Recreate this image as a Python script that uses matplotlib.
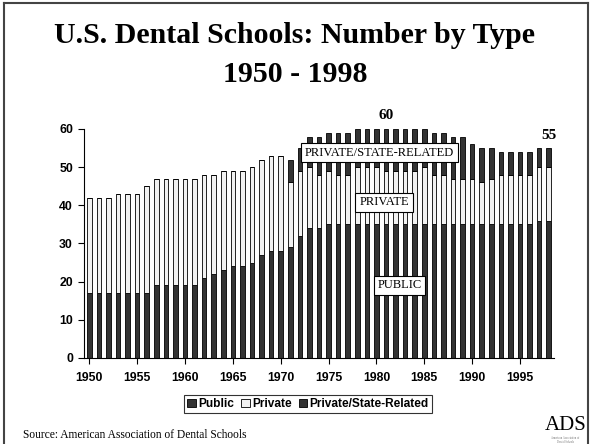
import matplotlib.pyplot as plt
from matplotlib.patches import Patch
from matplotlib.lines import Line2D

# Dental schools by type, 1950 - 1998
years = list(range(1950, 1999))
public = [17, 17, 17, 17, 17, 17, 17, 19, 19, 19, 19, 19, 21, 22, 23, 24, 24,
          25, 27, 28, 28, 29, 32, 34, 34, 35, 35, 35, 35, 35, 35, 35, 35, 35,
          35, 35, 35, 35, 35, 35, 35, 35, 35, 35, 35, 35, 35, 36, 36]
private = [25, 25, 25, 26, 26, 26, 28, 28, 28, 28, 28, 28, 27, 26, 26, 25, 25,
           25, 25, 25, 25, 17, 17, 16, 14, 14, 13, 13, 15, 15, 15, 14, 14, 14,
           14, 15, 13, 13, 12, 12, 12, 11, 12, 13, 13, 13, 13, 14, 14]
state_related = [0, 0, 0, 0, 0, 0, 0, 0, 0, 0, 0, 0, 0, 0, 0, 0, 0,
                 0, 0, 0, 0, 6, 6, 8, 10, 10, 11, 11, 10, 10, 10, 11, 11, 11,
                 11, 10, 11, 11, 11, 11, 9, 9, 8, 6, 6, 6, 6, 5, 5]
xticks = [1950, 1955, 1960, 1965, 1970, 1975, 1980, 1985, 1990, 1995]
yticks = [0, 10, 20, 30, 40, 50, 60]

dark = '#333333'
light = '#f2f2f2'
serif = 'Liberation Serif'
sans = 'Liberation Sans'

fig = plt.figure(figsize=(5.9, 4.44), dpi=100)
ax = fig.add_axes([0.1424, 0.1937, 0.7973, 0.5158])

bottom2 = [a + b for a, b in zip(public, private)]
ax.bar(years, public, width=0.48, color=dark, edgecolor='black', linewidth=0.6)
ax.bar(years, private, width=0.48, bottom=public, color=light,
       edgecolor='black', linewidth=0.6)
ax.bar(years, state_related, width=0.48, bottom=bottom2, color=dark,
       edgecolor='black', linewidth=0.6)

ax.set_xlim(1949.45, 1998.6)
ax.set_ylim(0, 60)
ax.set_xticks(xticks)
ax.set_yticks(yticks)
for lab in ax.get_xticklabels() + ax.get_yticklabels():
    lab.set_fontfamily(sans)
    lab.set_fontweight('bold')
    lab.set_fontsize(8.8)
ax.tick_params(direction='out', length=4, width=0.8)
ax.tick_params(axis='x', pad=6)
ax.tick_params(axis='y', pad=4)
ax.spines['top'].set_visible(False)
ax.spines['right'].set_visible(False)

# labels on the bars
box = dict(boxstyle='square,pad=0.3', fc='white', ec='black', lw=0.8)
ax.text(1980.3, 53.8, 'PRIVATE/STATE-RELATED', family=serif, fontsize=9,
        ha='center', va='center', bbox=box)
ax.text(1980.8, 40.8, 'PRIVATE', family=serif, fontsize=9,
        ha='center', va='center', bbox=box)
ax.text(1982.4, 19.0, 'PUBLIC', family=serif, fontsize=9,
        ha='center', va='center', bbox=box)
ax.text(1981, 63.6, '60', family=serif, fontsize=11, fontweight='bold',
        ha='center', va='center', clip_on=False)
ax.text(1998, 58.2, '55', family=serif, fontsize=11, fontweight='bold',
        ha='center', va='center', clip_on=False)

# title
fig.text(0.5, 0.919, 'U.S. Dental Schools: Number by Type', family=serif,
         fontsize=21.5, fontweight='bold', ha='center', va='center')
fig.text(0.5, 0.833, '1950 - 1998', family=serif,
         fontsize=21.5, fontweight='bold', ha='center', va='center')

# legend
handles = [Patch(facecolor=dark, edgecolor='black', lw=0.6, label='Public'),
           Patch(facecolor=light, edgecolor='black', lw=0.6, label='Private'),
           Patch(facecolor=dark, edgecolor='black', lw=0.6,
                 label='Private/State-Related')]
leg = fig.legend(handles=handles, loc='center', bbox_to_anchor=(0.522, 0.089),
                 ncol=3, frameon=True, fancybox=False, handlelength=0.7,
                 handleheight=0.7, handletextpad=0.2, columnspacing=0.6,
                 borderpad=0.25, borderaxespad=0,
                 prop={'family': sans, 'weight': 'bold', 'size': 8.6})
leg.get_frame().set_edgecolor('black')
leg.get_frame().set_linewidth(0.8)

# footer
fig.text(0.039, 0.02, 'Source: American Association of Dental Schools',
         family=serif, fontsize=8.3, ha='left', va='center')
fig.text(0.958, 0.042, 'ADS', family=serif, fontsize=15, ha='center',
         va='center')
fig.text(0.958, 0.009, 'American Association of\nDental Schools', family=serif,
         fontsize=2, color='#777777', ha='center', va='center')

# slide frame
frame = dict(color='#444444', lw=1.5)
fig.add_artist(Line2D([0.006, 0.006], [0, 0.993], **frame))
fig.add_artist(Line2D([0.006, 0.997], [0.993, 0.993], **frame))
fig.add_artist(Line2D([0.997, 0.997], [0, 0.993], **frame))

fig.savefig('out.png', dpi=100)
